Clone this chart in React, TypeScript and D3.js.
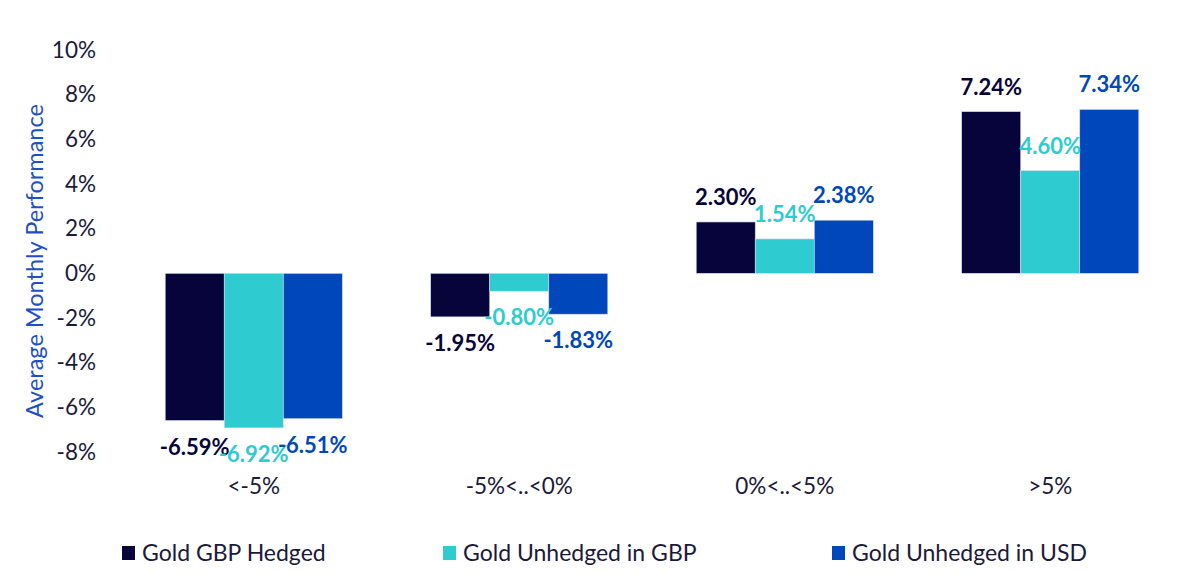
import React, { useRef, useEffect } from 'react';
import * as d3 from 'd3';

const categories = ['<-5%', '-5%<..<0%', '0%<..<5%', '>5%'];
const seriesNames = ['Gold GBP Hedged', 'Gold Unhedged in GBP', 'Gold Unhedged in USD'];
const seriesColors = ['#06043A', '#2ECBD0', '#0047BB'];
const gbpHedged = [-6.59, -1.95, 2.30, 7.24];
const unhedgedGbp = [-6.92, -0.80, 1.54, 4.60];
const unhedgedUsd = [-6.51, -1.83, 2.38, 7.34];
const yTicks = [-8, -6, -4, -2, 0, 2, 4, 6, 8, 10];

const W = 1200;
const H = 573;
const FONT = 'Lato, "Open Sans", sans-serif';

const App: React.FC = () => {
  const svgRef = useRef<SVGSVGElement>(null);

  useEffect(() => {
    if (!svgRef.current) return;
    const svg = d3.select(svgRef.current);
    svg.selectAll('*').remove();

    const series = [gbpHedged, unhedgedGbp, unhedgedUsd];

    const x0 = d3.scaleBand<string>().domain(categories).range([121, 1183]).paddingInner(0.333).paddingOuter(0.1665);
    const x1 = d3.scaleBand<number>().domain([0, 1, 2]).range([0, x0.bandwidth()]);
    const y = d3.scaleLinear().domain([-8, 10]).range([452, 50]);

    // Y axis labels
    svg.append('g')
      .attr('transform', 'translate(96,0)')
      .call(d3.axisLeft(y).tickValues(yTicks).tickFormat(d => `${d}%`).tickSize(0).tickPadding(0))
      .call(g => g.select('.domain').remove())
      .call(g => g.selectAll('text')
        .attr('font-family', FONT)
        .attr('font-size', 22.5)
        .attr('fill', '#1B1A3A'));

    // Axis title
    svg.append('text')
      .attr('transform', `translate(43,${(50 + 452) / 2 + 10}) rotate(-90)`)
      .attr('text-anchor', 'middle')
      .attr('font-family', FONT)
      .attr('font-size', 23.5)
      .attr('fill', '#1F4FC4')
      .text('Average Monthly Performance');

    // Bars
    const groups = svg.append('g')
      .selectAll('g')
      .data(categories)
      .join('g')
      .attr('transform', c => `translate(${x0(c)},0)`);

    groups.each(function (c, ci) {
      const g = d3.select(this);
      series.forEach((vals, si) => {
        const v = vals[ci];
        g.append('rect')
          .attr('x', x1(si)!)
          .attr('width', x1.bandwidth())
          .attr('y', y(Math.max(0, v)))
          .attr('height', Math.abs(y(v) - y(0)))
          .attr('fill', seriesColors[si])
          .attr('stroke', '#D8DCEC')
          .attr('stroke-width', 0.6);
      });
      series.forEach((vals, si) => {
        const v = vals[ci];
        g.append('text')
          .attr('x', x1(si)! + x1.bandwidth() / 2)
          .attr('y', v >= 0 ? y(v) - 17 : y(v) + 34)
          .attr('text-anchor', 'middle')
          .attr('font-family', FONT)
          .attr('font-size', 22)
          .attr('font-weight', 700)
          .attr('fill', seriesColors[si])
          .text(`${v.toFixed(2)}%`);
      });
    });

    // Category labels
    svg.append('g')
      .attr('transform', 'translate(0,478)')
      .call(d3.axisBottom(x0).tickSize(0).tickPadding(0))
      .call(g => g.select('.domain').remove())
      .call(g => g.selectAll('text')
        .attr('dy', '0.71em')
        .attr('font-family', FONT)
        .attr('font-size', 22.5)
        .attr('fill', '#1B1A3A'));

    // Legend
    const legendX = [122, 443, 832];
    const legend = svg.append('g')
      .selectAll('g')
      .data(seriesNames)
      .join('g')
      .attr('transform', (_, i) => `translate(${legendX[i]},545)`);
    legend.append('rect')
      .attr('width', 13)
      .attr('height', 14)
      .attr('y', 1)
      .attr('fill', (_, i) => seriesColors[i]);
    legend.append('text')
      .attr('x', 20)
      .attr('y', 16)
      .attr('font-family', FONT)
      .attr('font-size', 23)
      .attr('fill', '#1B1A3A')
      .text(d => d);
  }, []);

  return (
    <div style={{ position: 'absolute', left: 0, top: 0, width: W, height: H, background: '#fff' }}>
      <svg ref={svgRef} width={W} height={H} />
    </div>
  );
};

export default App;
